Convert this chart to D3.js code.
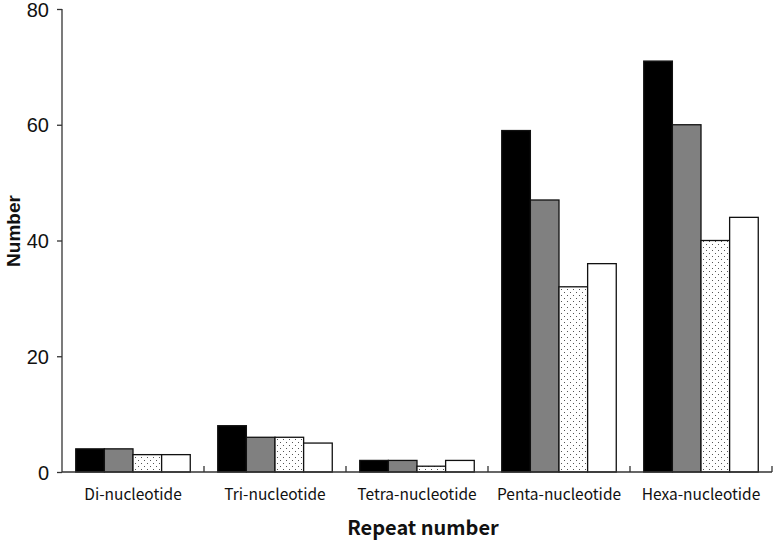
<!DOCTYPE html>
<html><head><meta charset="utf-8">
<script src="https://cdn.jsdelivr.net/npm/d3@7"></script>
<style>body{margin:0;background:#fff}</style>
</head><body>
<svg id="chart" width="780" height="545"></svg>
<script>
const categories = ["Di-nucleotide","Tri-nucleotide","Tetra-nucleotide","Penta-nucleotide","Hexa-nucleotide"];
const seriesNames = ["s1","s2","s3","s4"];
const s1 = [4, 8, 2, 59, 71];
const s2 = [4, 6, 2, 47, 60];
const s3 = [3, 6, 1, 32, 40];
const s4 = [3, 5, 2, 36, 44];
const yTicks = [0, 20, 40, 60, 80];
const seriesValues = [s1, s2, s3, s4];

const svg = d3.select("#chart");
const defs = svg.append("defs");
const pat = defs.append("pattern").attr("id","dots").attr("patternUnits","userSpaceOnUse")
  .attr("width",6).attr("height",6);
pat.append("rect").attr("width",6).attr("height",6).attr("fill","#fff");
pat.append("rect").attr("x",1).attr("y",1).attr("width",1).attr("height",1).attr("fill","#555");
pat.append("rect").attr("x",4).attr("y",4).attr("width",1).attr("height",1).attr("fill","#555");
const fills = ["#000000","#808080","url(#dots)","#ffffff"];

const x0 = d3.scaleBand().domain(categories).range([62, 772]).padding(0);
const x1 = d3.scaleBand().domain(seriesNames).range([0, x0.bandwidth()]).paddingInner(0).paddingOuter(0.48);
const y = d3.scaleLinear().domain([0, 80]).range([472, 9]);

const font = "'Noto Sans CJK KR','Noto Sans',sans-serif";
const numFont = "'Liberation Sans',Arial,sans-serif";

const groups = svg.append("g").selectAll("g").data(categories).join("g")
  .attr("transform", d => `translate(${x0(d)},0)`);
groups.selectAll("rect").data((c,i) => seriesNames.map((s,j) => ({s, v: seriesValues[j][i], j})))
  .join("rect")
  .attr("x", d => x1(d.s))
  .attr("y", d => y(d.v))
  .attr("width", x1.bandwidth())
  .attr("height", d => y(0) - y(d.v))
  .attr("fill", d => fills[d.j])
  .attr("stroke", "#111")
  .attr("stroke-width", 1.3);

// Y axis
const yAxis = svg.append("g").attr("transform","translate(62,0)")
  .call(d3.axisLeft(y).tickValues(yTicks).tickSize(5).tickPadding(8).tickFormat(d3.format("d")));
yAxis.select(".domain").attr("stroke","#333").attr("stroke-width",1.3).attr("d","M0,9V472");
yAxis.selectAll(".tick line").attr("stroke","#333").attr("stroke-width",1.3);
yAxis.selectAll("text").attr("font-family",numFont).attr("font-size",20).attr("fill","#111")
  .attr("dy","0.36em");

// X axis
const xAxis = svg.append("g").attr("transform","translate(0,472)");
xAxis.append("line").attr("x1",62).attr("x2",772).attr("stroke","#333").attr("stroke-width",1.3);
const bounds = categories.map(c => x0(c) + x0.bandwidth());
xAxis.selectAll("line.tk").data(bounds).join("line").attr("class","tk")
  .attr("x1",d=>d).attr("x2",d=>d).attr("y1",0).attr("y2",-6)
  .attr("stroke","#333").attr("stroke-width",1.3);
xAxis.selectAll("text").data(categories).join("text")
  .attr("x", d => x0(d) + x0.bandwidth()/2)
  .attr("y", 28)
  .attr("text-anchor","middle")
  .attr("font-family",font).attr("font-size",15.5).attr("fill","#111")
  .text(d => d);

svg.append("text").attr("x",423).attr("y",535).attr("text-anchor","middle")
  .attr("font-family",font).attr("font-size",20).attr("font-weight","bold").attr("fill","#111")
  .text("Repeat number");
svg.append("text").attr("transform","translate(20,231) rotate(-90)").attr("text-anchor","middle")
  .attr("font-family","'Liberation Sans',Arial,sans-serif").attr("font-size",19).attr("font-weight","bold").attr("fill","#111")
  .text("Number");
</script>
</body></html>
